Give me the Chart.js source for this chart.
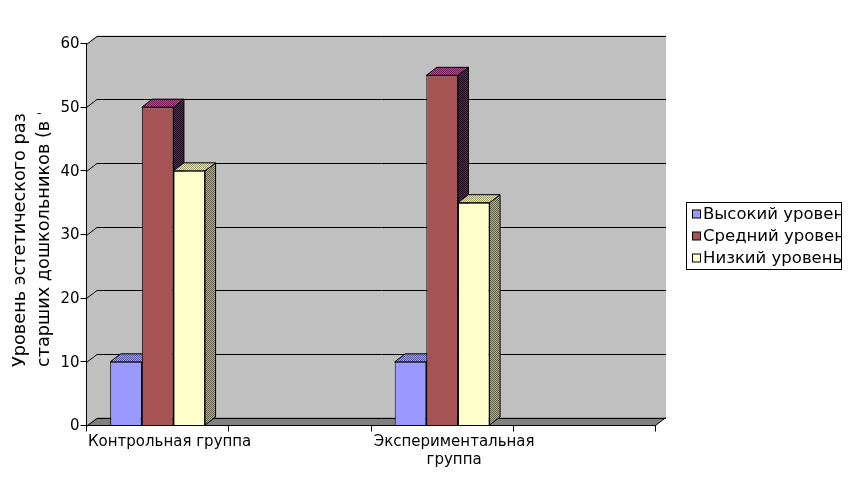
<!DOCTYPE html>
<html lang="ru">
<head>
<meta charset="utf-8">
<style>
  html, body { margin: 0; background: #fff; }
  #chart-wrap { width: 854px; height: 480px; }
</style>
<script src="https://cdn.jsdelivr.net/npm/chart.js@4"></script>
</head>
<body>
<div id="chart-wrap"><canvas id="grafico"></canvas></div>
<script>
const categorias = ['Контрольная группа', '', ['Экспериментальная', 'группа'], ''];
const alto = [10, null, 10, null];
const medio = [50, null, 55, null];
const bajo = [40, null, 35, null];
const seriesNombres = ['Высокий уровень', 'Средний уровень', 'Низкий уровень'];
const seriesColores = ['#9999FF', '#A65353', '#FFFFCC'];
const carasArriba = [['#9999FF', '#5A5AA8'], ['#A65353', '#7A1F5C'], ['#E0E0B0', '#A0A070']];
const carasLado = [['#6666AA', '#333366'], ['#702050', '#200820'], ['#B0B080', '#60604A']];
const tituloY = ['Уровень эстетического развития', 'старших дошкольников (в %)'];

const FUENTE = '"DejaVu Sans"';
const DX = 10.5, DY = -8;

// shaded faces of the fake 3D bars are dithered, like the old office renderer
function trama(par) {
  const c = document.createElement('canvas');
  c.width = c.height = 2;
  const g = c.getContext('2d');
  g.fillStyle = par[0];
  g.fillRect(0, 0, 2, 2);
  g.fillStyle = par[1];
  g.fillRect(0, 0, 1, 1);
  g.fillRect(1, 1, 1, 1);
  return g.createPattern(c, 'repeat');
}

function poligono(ctx, pts, fill, stroke) {
  ctx.beginPath();
  pts.forEach((p, i) => i ? ctx.lineTo(p[0], p[1]) : ctx.moveTo(p[0], p[1]));
  ctx.closePath();
  if (fill) { ctx.fillStyle = fill; ctx.fill(); }
  if (stroke) { ctx.strokeStyle = stroke; ctx.lineWidth = 1; ctx.stroke(); }
}

function linea(ctx, x1, y1, x2, y2) {
  ctx.beginPath();
  ctx.moveTo(x1, y1);
  ctx.lineTo(x2, y2);
  ctx.stroke();
}

const escena3d = {
  id: 'escena3d',
  // walls go under the axes, so this runs before the scales are painted
  beforeDraw(chart) {
    const { ctx, chartArea: a, scales: { y } } = chart;
    ctx.save();
    poligono(ctx, [[a.left, a.top], [a.left + DX, a.top + DY], [a.right + DX, a.top + DY],
      [a.right + DX, a.bottom + DY], [a.right, a.bottom], [a.left, a.bottom]], '#C0C0C0');
    poligono(ctx, [[a.left, a.bottom], [a.left + DX, a.bottom + DY], [a.right + DX, a.bottom + DY],
      [a.right, a.bottom]], '#808080');
    ctx.strokeStyle = '#000';
    ctx.lineWidth = 1;
    y.ticks.forEach(t => {
      const py = Math.round(y.getPixelForValue(t.value)) + 0.5;
      linea(ctx, a.left, py, a.left + DX, py + DY);
      linea(ctx, a.left + DX, py + DY, a.right + DX, py + DY);
    });
    linea(ctx, a.right, a.bottom, a.right + DX, a.bottom + DY);
    ctx.restore();
  },
  beforeDatasetsDraw(chart) {
    const { ctx } = chart;
    ctx.save();
    // bars left to right so each one covers the side of the previous
    chart.data.datasets.forEach((ds, i) => {
      chart.getDatasetMeta(i).data.forEach((bar, k) => {
        if (ds.data[k] == null) return;
        const l = bar.x - bar.width / 2, r = bar.x + bar.width / 2;
        const t = bar.y, b = bar.base;
        poligono(ctx, [[r, t], [r + DX, t + DY], [r + DX, b + DY], [r, b]], trama(carasLado[i]), '#000');
        poligono(ctx, [[l, t], [l + DX, t + DY], [r + DX, t + DY], [r, t]], trama(carasArriba[i]), '#000');
        bar.draw(ctx);
      });
    });
    ctx.restore();
    return false;
  },
  afterDraw(chart) {
    const { ctx } = chart;
    ctx.save();
    ctx.fillStyle = '#000';

    // y title, cut off by the height of its frame
    ctx.save();
    ctx.beginPath();
    ctx.rect(0, 113, 60, 260);
    ctx.clip();
    ctx.translate(0, 367);
    ctx.rotate(-Math.PI / 2);
    ctx.font = '17.7px ' + FUENTE;
    ctx.textBaseline = 'middle';
    ctx.textAlign = 'left';
    tituloY.forEach((txt, i) => ctx.fillText(txt, 0, 20 + i * 24));
    ctx.restore();

    // legend, text clipped by its box
    const caja = { x: 687, y: 202, w: 155, h: 67 };
    ctx.fillStyle = '#fff';
    ctx.fillRect(caja.x, caja.y, caja.w, caja.h);
    ctx.save();
    ctx.beginPath();
    ctx.rect(caja.x, caja.y, caja.w, caja.h);
    ctx.clip();
    ctx.font = '16.5px ' + FUENTE;
    ctx.textBaseline = 'middle';
    seriesNombres.forEach((nombre, i) => {
      const fy = caja.y + 12.5 + i * 22;
      ctx.fillStyle = seriesColores[i];
      ctx.fillRect(caja.x + 5.5, fy - 4.5, 8, 8);
      ctx.strokeStyle = '#000';
      ctx.lineWidth = 1;
      ctx.strokeRect(caja.x + 5.5, fy - 4.5, 8, 8);
      ctx.fillStyle = '#000';
      ctx.fillText(nombre, caja.x + 16, fy);
    });
    ctx.restore();
    ctx.strokeStyle = '#000';
    ctx.lineWidth = 1;
    ctx.strokeRect(caja.x - 0.5, caja.y + 0.5, caja.w, caja.h);
    ctx.restore();
  }
};

new Chart(document.getElementById('grafico'), {
  type: 'bar',
  data: {
    labels: categorias,
    datasets: [
      { label: seriesNombres[0], data: alto, backgroundColor: seriesColores[0] },
      { label: seriesNombres[1], data: medio, backgroundColor: seriesColores[1] },
      { label: seriesNombres[2], data: bajo, backgroundColor: seriesColores[2] }
    ].map(d => ({ ...d, borderColor: '#000', borderWidth: 1, barPercentage: 1, categoryPercentage: 0.667 }))
  },
  options: {
    responsive: true,
    maintainAspectRatio: false,
    animation: false,
    layout: { padding: { left: 56.5, right: 198.5, top: 43.5, bottom: 0 } },
    plugins: { legend: { display: false }, tooltip: { enabled: false } },
    scales: {
      x: {
        afterFit: s => { s.height = 54.5; },
        grid: { drawOnChartArea: false, color: '#000', tickLength: 6, offset: true },
        border: { color: '#000' },
        ticks: { color: '#000', font: { family: FUENTE, size: 15 }, maxRotation: 0, autoSkip: false, padding: 2, labelOffset: 12 }
      },
      y: {
        min: 0,
        max: 60,
        afterFit: s => { s.width = 30; },
        grid: { drawOnChartArea: false, color: '#000', tickLength: 6 },
        border: { color: '#000' },
        ticks: { stepSize: 10, color: '#000', font: { family: FUENTE, size: 15 }, padding: 1, labelOffset: 1 }
      }
    }
  },
  plugins: [escena3d]
});
</script>
</body>
</html>
